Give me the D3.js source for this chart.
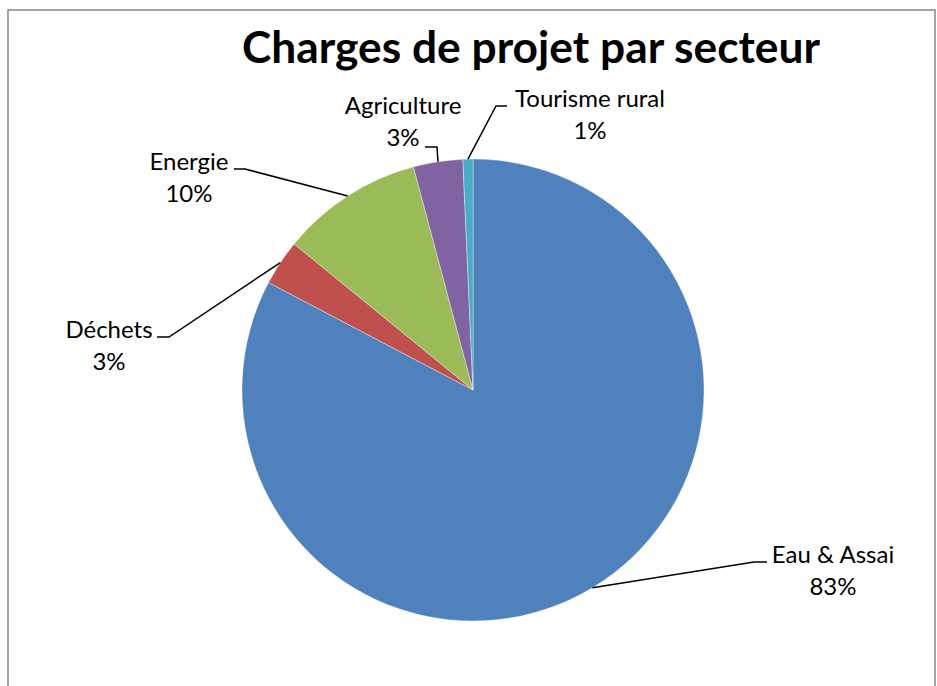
<!DOCTYPE html>
<html>
<head>
<meta charset="utf-8">
<script src="https://cdn.jsdelivr.net/npm/d3@7"></script>
<style>
  body { margin: 0; background: #fff; }
  svg { display: block; }
  text { font-family: Lato, "Open Sans", sans-serif; fill: #000; }
</style>
</head>
<body>
<div id="wrapper"></div>
<script>
// data
const sectors = ["Eau & Assai", "Déchets", "Energie", "Agriculture", "Tourisme rural"];
const charges = [82.7, 3.2, 9.95, 3.45, 0.7];
const colors = ["#4F81BD", "#C0504D", "#9BBB59", "#8064A2", "#4BACC6"];
const title = "Charges de projet par secteur";

// label layout: elbow of the leader, end of the short tick, text centre, first baseline
const labelPos = [
  { ex: 754, ey: 562, hx: 767, tx: 833, ty: 563 },
  { ex: 169, ey: 337, hx: 157, tx: 109, ty: 338 },
  { ex: 245, ey: 169, hx: 234, tx: 189, ty: 170 },
  { ex: 437, ey: 147, hx: 425, tx: 403, ty: 114 },
  { ex: 496, ey: 106, hx: 507, tx: 590, ty: 107 }
];

const W = 937, H = 686;
const cx = 473, cy = 390, R = 231;

const svg = d3.select("#wrapper").append("svg")
  .attr("width", W).attr("height", H);

svg.append("rect")
  .attr("x", 8).attr("y", 10).attr("width", 927).attr("height", 700)
  .attr("fill", "#fff").attr("stroke", "#878787").attr("stroke-width", 1.5);

svg.append("text")
  .attr("x", 531).attr("y", 63)
  .attr("text-anchor", "middle")
  .attr("textLength", 578).attr("lengthAdjust", "spacingAndGlyphs")
  .style("font-size", "43px").style("font-weight", "bold")
  .text(title);

const data = sectors.map((s, i) => ({ name: s, value: charges[i], color: colors[i], pos: labelPos[i] }));
const total = d3.sum(charges);

const pie = d3.pie().value(d => d.value).sort(null);
const arcs = pie(data);
const arc = d3.arc().innerRadius(0).outerRadius(R);
const edge = d3.arc().innerRadius(R).outerRadius(R);

const g = svg.append("g").attr("transform", "translate(" + cx + "," + cy + ")");

g.selectAll(".slice")
  .data(arcs)
  .enter().append("path")
  .attr("class", "slice")
  .attr("d", arc)
  .attr("fill", d => d.data.color)
  .attr("stroke", "#fff")
  .attr("stroke-width", 0.6)
  .attr("stroke-opacity", 0.6);

// leader lines
svg.selectAll(".leader")
  .data(arcs)
  .enter().append("polyline")
  .attr("class", "leader")
  .attr("fill", "none")
  .attr("stroke", "#000")
  .attr("stroke-width", 1.5)
  .attr("points", d => {
    const c = edge.centroid(d);
    const p = d.data.pos;
    return [[cx + c[0], cy + c[1]], [p.ex, p.ey], [p.hx, p.ey]].map(q => q.join(",")).join(" ");
  });

const lab = svg.selectAll(".lab")
  .data(arcs)
  .enter().append("text")
  .attr("class", "lab")
  .attr("text-anchor", "middle")
  .style("font-size", "24px");

lab.append("tspan")
  .attr("x", d => d.data.pos.tx).attr("y", d => d.data.pos.ty)
  .text(d => d.data.name);
lab.append("tspan")
  .attr("x", d => d.data.pos.tx).attr("y", d => d.data.pos.ty + 32)
  .text(d => Math.round(d.data.value / total * 100) + "%");
</script>
</body>
</html>
